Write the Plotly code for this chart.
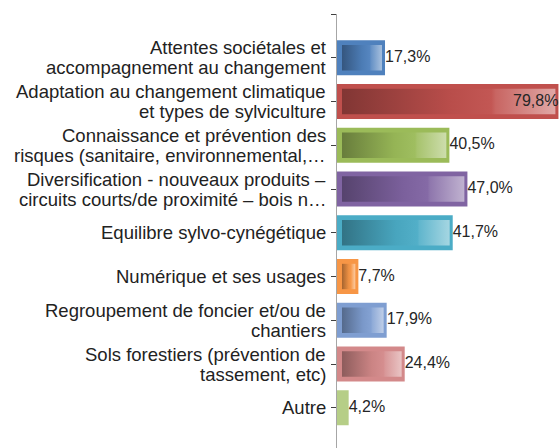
import plotly.graph_objects as go

# ---- data ----
categories = [
    "Attentes sociétales et\naccompagnement au changement",
    "Adaptation au changement climatique\net types de sylviculture",
    "Connaissance et prévention des\nrisques (sanitaire, environnemental,…",
    "Diversification - nouveaux produits –\ncircuits courts/de proximité – bois n…",
    "Equilibre sylvo-cynégétique",
    "Numérique et ses usages",
    "Regroupement de foncier et/ou de\nchantiers",
    "Sols forestiers (prévention de\ntassement, etc)",
    "Autre",
]
values = [17.3, 79.8, 40.5, 47.0, 41.7, 7.7, 17.9, 24.4, 4.2]
bar_colors = ["#4F81BD", "#C0504D", "#9BBB59", "#8064A2", "#4BACC6",
              "#F79646", "#7F9ED1", "#D3898A", "#B6CE87"]

FONT = "Liberation Sans, Arial, sans-serif"
idx = list(range(len(values)))


def hex2rgb(h):
    h = h.lstrip("#")
    return tuple(int(h[i:i + 2], 16) for i in (0, 2, 4))


def mix(h, other, t):
    a = hex2rgb(h)
    b = other
    return "rgb(%d,%d,%d)" % tuple(round(a[k] * (1 - t) + b[k] * t) for k in range(3))


fig = go.Figure()

# outer bars
fig.add_trace(go.Bar(
    orientation="h", x=values, y=idx, width=0.8,
    marker=dict(color=bar_colors, line=dict(width=0)),
    hoverinfo="skip", showlegend=False,
))

# inner gradient panels (Excel-like gradient fill)
half_inner = 0.29
for i, (v, c) in enumerate(zip(values, bar_colors)):
    if v <= 5:
        continue
    x0 = 1.8
    x1 = v - 1.1
    cs = [
        [0.0, mix(c, (0, 0, 0), 0.33)],
        [0.5, mix(c, (0, 0, 0), 0.04)],
        [0.70, mix(c, (255, 255, 255), 0.04)],
        [0.72, mix(c, (255, 255, 255), 0.12)],
        [1.0, mix(c, (255, 255, 255), 0.5)],
    ]
    fig.add_trace(go.Scatter(
        x=[x0, x1, x1, x0, x0],
        y=[i - half_inner, i - half_inner, i + half_inner, i + half_inner, i - half_inner],
        mode="lines", line=dict(width=0), fill="toself",
        fillgradient=dict(type="horizontal", colorscale=cs),
        hoverinfo="skip", showlegend=False,
    ))

# value labels
labels = [f"{v:.1f}".replace(".", ",") + "%" for v in values]
positions = ["middle left" if v > 70 else "middle right" for v in values]
fig.add_trace(go.Scatter(
    x=values, y=idx, mode="text", text=labels, textposition=positions,
    textfont=dict(family=FONT, size=16, color="#262626"),
    cliponaxis=False, hoverinfo="skip", showlegend=False,
))

# category labels, line by line for tight spacing
annotations = []
for i, cat in enumerate(categories):
    lines = cat.split("\n")
    n = len(lines)
    for j, ln in enumerate(lines):
        shift = ((n - 1) / 2 - j) * 20
        annotations.append(dict(
            text=ln, xref="paper", x=0, xanchor="right", xshift=-9,
            yref="y", y=i, yanchor="middle", yshift=shift,
            showarrow=False, font=dict(family=FONT, size=18.5, color="#222222"),
        ))

fig.update_layout(
    width=559, height=448,
    margin=dict(l=337, r=0, t=14, b=0),
    paper_bgcolor="white", plot_bgcolor="white",
    barmode="overlay",
    showlegend=False,
    hovermode=False,
    annotations=annotations,
    xaxis=dict(range=[0, 80], visible=False, showgrid=False, zeroline=False),
    yaxis=dict(
        range=[8.92, -1],
        tickvals=[-1] + idx, ticktext=[""] * (len(idx) + 1),
        showticklabels=False,
        ticks="outside", ticklen=5, tickcolor="#404040", tickwidth=1,
        showline=True, linecolor="#A6A6A6", linewidth=1,
        showgrid=False, zeroline=False,
    ),
)

# remove the default page margin so the figure fills the 559x448 window exactly
fig.write_html(
    "out.html",
    config={"displayModeBar": False},
    post_script="document.body.style.margin='0';document.body.style.overflow='hidden';",
)
